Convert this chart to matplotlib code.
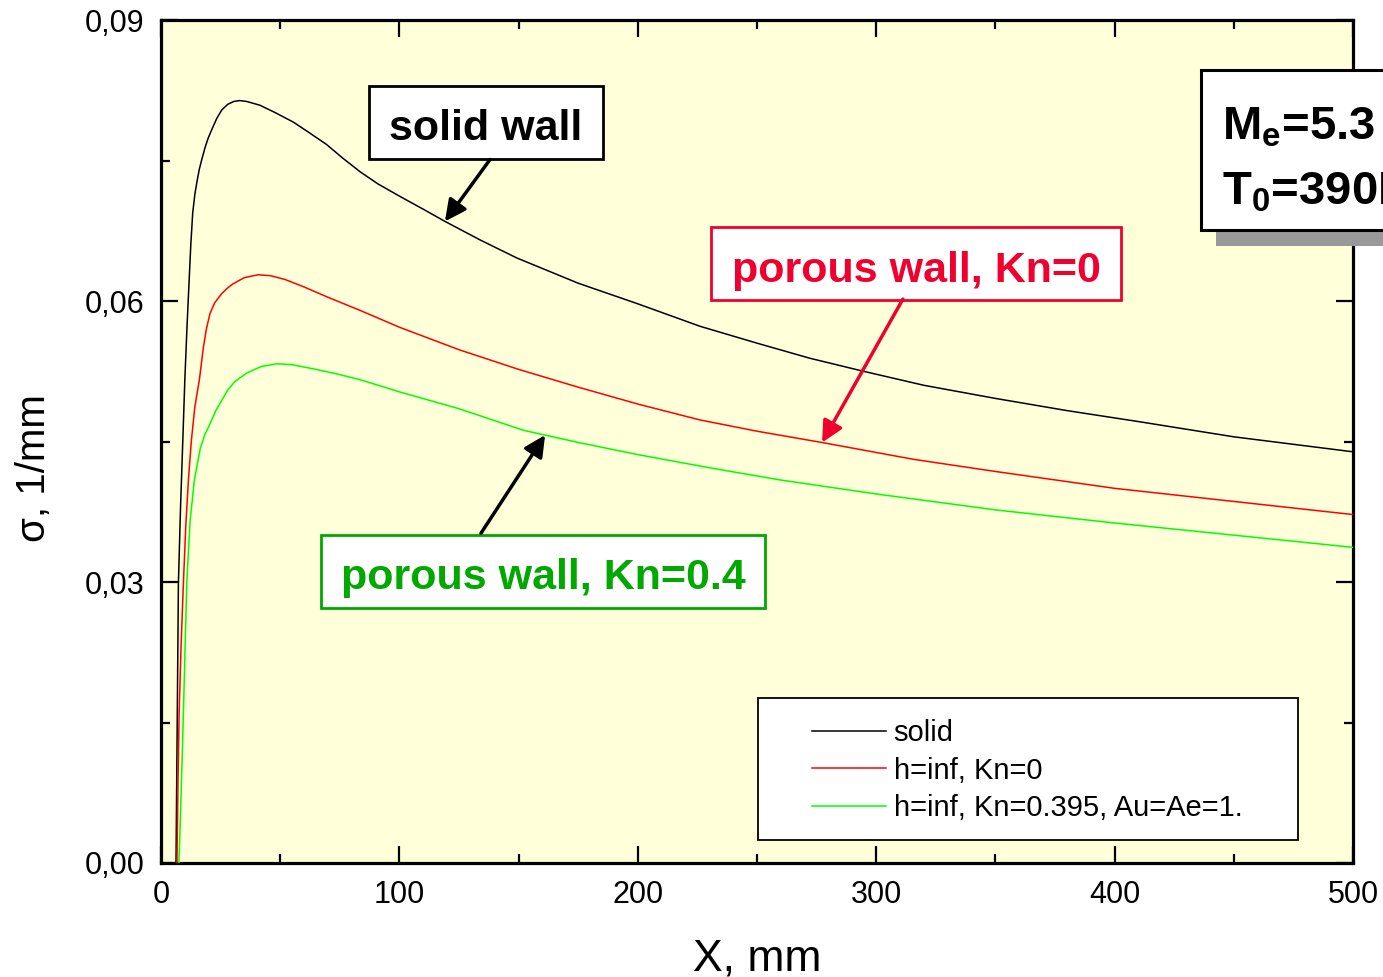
import numpy as np
import matplotlib
matplotlib.use("Agg")
import matplotlib.pyplot as plt
from matplotlib.patches import Rectangle
from matplotlib.ticker import MultipleLocator, FuncFormatter

plt.rcParams['font.family'] = ['Liberation Sans', 'DejaVu Sans']
plt.rcParams['mathtext.fontset'] = 'custom'
plt.rcParams['mathtext.rm'] = 'Liberation Sans:bold'
plt.rcParams['mathtext.it'] = 'Liberation Sans:bold'
plt.rcParams['mathtext.bf'] = 'Liberation Sans:bold'

# Growth rate sigma (1/mm) along the plate, X (mm)
x_solid = [6.3, 6.8, 7.3, 8.2, 9.2, 10.0, 10.9, 11.8, 12.5, 13.3, 14.2, 15.2, 16.1, 17.1, 18.5,
           19.8, 21.3, 23.4, 25.5, 28.0, 30.5, 33.0, 36.0, 41.5, 48.0, 55.5, 62.0, 69.5, 76.0,
           83.5, 91.0, 100, 110, 119.1, 134, 149.2, 175, 200, 226.1, 250, 272, 294.6, 320,
           350, 380, 410.7, 450, 500]
y_solid = [0.0, 0.0150, 0.0299, 0.0380, 0.0455, 0.0516, 0.0572, 0.0622, 0.0660, 0.0694,
           0.0714, 0.0729, 0.0741, 0.0751, 0.0764, 0.0774, 0.0783, 0.0795, 0.0804, 0.0810,
           0.0813, 0.0814, 0.0813, 0.0809, 0.0801, 0.0791, 0.0780, 0.0767, 0.0753, 0.0738,
           0.0725, 0.0712, 0.0698, 0.0685, 0.0665, 0.0646, 0.0619, 0.0597, 0.0573, 0.0555,
           0.0539, 0.0525, 0.0510, 0.0496, 0.0483, 0.0471, 0.0455, 0.0439]

x_kn0 = [6.7, 7.1, 7.6, 8.4, 9.4, 10.4, 11.5, 12.7, 14.2, 16.1, 17.8, 19.1, 20.6, 22.5, 25.5,
         28.0, 30.0, 35.0, 40.8, 46.0, 52.0, 60.0, 70.0, 83.5, 100, 125, 150, 175, 200,
         226.1, 250, 277.1, 315.6, 350, 400, 450, 500]
y_kn0 = [0.0, 0.0080, 0.0160, 0.0230, 0.0299, 0.0360, 0.0409, 0.0450, 0.0487, 0.0516,
         0.0551, 0.0571, 0.0587, 0.0598, 0.0608, 0.0614, 0.0618, 0.0625, 0.0628, 0.0627,
         0.0623, 0.0615, 0.0604, 0.0590, 0.0572, 0.0548, 0.0527, 0.0508, 0.0490, 0.0473,
         0.0461, 0.0449, 0.0431, 0.0418, 0.0400, 0.0386, 0.0372]

x_kn04 = [7.5, 8.2, 9.4, 10.8, 12.2, 14.0, 16.5, 18.5, 20.6, 23.0, 25.5, 28.0, 31.0, 35.9,
          42.0, 48.5, 55.0, 65.0, 74.0, 83.5, 100, 125, 152, 175, 200, 230, 259.6, 300,
          350, 400, 450, 500]
y_kn04 = [0.0, 0.0053, 0.0160, 0.0299, 0.0365, 0.0409, 0.0443, 0.0458, 0.0469, 0.0483,
          0.0494, 0.0505, 0.0514, 0.0523, 0.0530, 0.0533, 0.0532, 0.0527, 0.0522, 0.0516,
          0.0503, 0.0485, 0.0462, 0.0449, 0.0436, 0.0422, 0.0409, 0.0394, 0.0377, 0.0363,
          0.0350, 0.0337]

labels = ['solid', 'h=inf, Kn=0', 'h=inf, Kn=0.395, Au=Ae=1.']
colors = ['#000000', '#FF0000', '#00FF00']

W, H = 1383, 977
fig = plt.figure(figsize=(W / 100, H / 100), dpi=100)
ax = fig.add_axes([161 / W, 1 - 863 / H, (1353 - 161) / W, (863 - 20) / H])
ax.set_facecolor('#FFFFDA')

for xs, ys, lab, c in zip([x_solid, x_kn0, x_kn04], [y_solid, y_kn0, y_kn04], labels, colors):
    ax.plot(xs, ys, color=c, lw=1.1, label=lab, zorder=3)

ax.set_xlim(0, 500)
ax.set_ylim(0, 0.09)
ax.xaxis.set_major_locator(MultipleLocator(100))
ax.xaxis.set_minor_locator(MultipleLocator(50))
ax.yaxis.set_major_locator(MultipleLocator(0.03))
ax.yaxis.set_minor_locator(MultipleLocator(0.015))
ax.yaxis.set_major_formatter(FuncFormatter(lambda v, p: f"{v:.2f}".replace('.', ',')))
ax.tick_params(which='both', direction='in', top=True, right=True, width=1.6,
               labelsize=22, pad=12, colors='black')
ax.tick_params(which='major', length=12.5)
ax.tick_params(which='minor', length=6.5)
for sp in ax.spines.values():
    sp.set_linewidth(2.3)

ax.set_xlabel('X, mm', fontsize=32)
ax.xaxis.set_label_coords(0.5, -0.089)
ax.set_ylabel('σ, 1/mm', fontsize=29)
ax.yaxis.set_label_coords(-0.091, 0.468)

# legend panel
ax.add_patch(Rectangle((0.5008, 0.0273), 0.4530, 0.1684, transform=ax.transAxes,
                       facecolor='white', edgecolor='black', lw=1.3, zorder=4))
leg = ax.legend(loc='upper left', bbox_to_anchor=(0.5461, 0.1708), frameon=False,
                fontsize=21, handlelength=2.53, handletextpad=0.27, labelspacing=0.33,
                borderpad=0, borderaxespad=0)
leg.set_zorder(5)

BASE = 0.00198  # text baseline above box bottom


def boxed_label(x0, x1, y0, y1, text, color, edge):
    ax.add_patch(Rectangle((x0, y0), x1 - x0, y1 - y0, facecolor='white', edgecolor=edge,
                           lw=2.0, zorder=6))
    ax.text((x0 + x1) / 2, y0 + BASE, text, color=color, fontsize=31, fontweight='bold',
            ha='center', va='baseline', zorder=7)


def arrow(x_from, y_from, x_to, ys_x, ys_y, color):
    y_to = np.interp(x_to, ys_x, ys_y)
    ax.annotate('', xy=(x_to, y_to), xytext=(x_from, y_from),
                arrowprops=dict(arrowstyle='-|>', color=color, lw=2.5, mutation_scale=32,
                                shrinkA=0, shrinkB=0), zorder=6)


red_txt = '#F0002E'
green_txt = '#00A800'

boxed_label(87.2, 185.4, 0.07516, 0.08295, 'solid wall', 'black', 'black')
arrow(138.0, 0.0751, 119.1, x_solid, y_solid, 'black')

boxed_label(230.9, 402.5, 0.06010, 0.06789, 'porous wall, Kn=0', red_txt, red_txt)
arrow(311.2, 0.0602, 277.3, x_kn0, y_kn0, red_txt)

boxed_label(67.1, 253.4, 0.02727, 0.03507, 'porous wall, Kn=0.4', green_txt, green_txt)
arrow(134.2, 0.0352, 161.1, x_kn04, y_kn04, 'black')

# flow-condition panel at upper right (partly beyond the figure edge)
fig.patches.append(Rectangle((1216 / W, 1 - 246 / H), 300 / W, 16 / H, transform=fig.transFigure,
                             facecolor='#999999', edgecolor='none', zorder=8, figure=fig))
fig.patches.append(Rectangle((1201 / W, 1 - 230 / H), 300 / W, 160 / H, transform=fig.transFigure,
                             facecolor='white', edgecolor='black', lw=2.2, zorder=9, figure=fig))
fig.text(1222 / W, 1 - 139 / H, r'M$_\mathrm{e}$=5.3', fontsize=34, fontweight='bold',
         ha='left', va='baseline', zorder=10)
fig.text(1222 / W, 1 - 205 / H, r'T$_\mathrm{0}$=390K', fontsize=34, fontweight='bold',
         ha='left', va='baseline', zorder=10)

fig.savefig('out.png', dpi=100)
